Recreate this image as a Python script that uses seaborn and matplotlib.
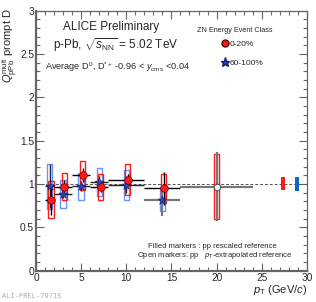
import numpy as np
import pandas as pd
import seaborn as sns
import matplotlib.pyplot as plt
from matplotlib.lines import Line2D

# pT bins
pt = [1.5, 3, 5, 7, 10, 14]
pt_lo = [1, 2, 4, 6, 8, 12]
pt_hi = [2, 4, 6, 8, 12, 16]

# 0-20% (red, filled)
q_0_20 = [0.82, 0.97, 1.10, 0.96, 1.05, 0.95]
stat_0_20 = [0.18, 0.07, 0.08, 0.05, 0.06, 0.19]
sys_0_20 = [0.21, 0.16, 0.17, 0.15, 0.18, 0.17]

# 0-20% open point (pT-extrapolated reference)
pt_open = [20]
pt_open_lo = [16]
pt_open_hi = [24]
q_open = [0.97]
stat_open = [0.40]
sys_open = [0.38]

# 60-100% (blue stars)
q_60_100 = [0.975, 0.885, 0.975, 1.02, 0.99, 0.81]
stat_60_100 = [0.25, 0.05, 0.06, 0.07, 0.10, 0.18]
sys_60_100 = [0.26, 0.16, 0.155, 0.16, 0.17, 0.12]

# normalisation uncertainty boxes
norm_x = [27.4, 28.9]
norm_unc = [0.075, 0.085]

red = '#ff1a1a'
blue = '#2a44c8'

df_red = pd.DataFrame({'pt': np.array(pt) + 0.15, 'q': q_0_20, 'cls': '0-20%'})
df_blue = pd.DataFrame({'pt': pt, 'q': q_60_100, 'cls': '60-100%'})

sns.set_style('ticks')
plt.rcParams['font.family'] = ['Liberation Sans', 'DejaVu Sans']
plt.rcParams['mathtext.fontset'] = 'custom'
plt.rcParams['mathtext.rm'] = 'Liberation Sans'
plt.rcParams['mathtext.it'] = 'Liberation Sans:italic'

fig = plt.figure(figsize=(3.16, 3.02), dpi=100)
ax = fig.add_axes([0.114, 0.104, 0.857, 0.861])

# reference line
ax.axhline(1, color='#555555', lw=0.7, ls=(0, (3, 2)), zorder=1)

# systematic boxes
x_red = np.array(pt) + 0.15
ax.bar(pt, 2 * np.array(sys_60_100), bottom=np.array(q_60_100) - np.array(sys_60_100),
       width=0.6, fill=False, edgecolor='#6b92ff', lw=1.0, zorder=2)
ax.bar(x_red, 2 * np.array(sys_0_20), bottom=np.array(q_0_20) - np.array(sys_0_20),
       width=0.6, fill=False, edgecolor=red, lw=1.0, zorder=2)
ax.bar(pt_open, 2 * np.array(sys_open), bottom=np.array(q_open) - np.array(sys_open),
       width=0.6, fill=False, edgecolor=red, lw=1.0, zorder=2)

# normalisation boxes
ax.bar(norm_x, 2 * np.array(norm_unc), bottom=1 - np.array(norm_unc),
       width=0.45, color=[red, '#0a66cc'], lw=0, zorder=2)

# statistical errors
xerr_b = [np.array(pt) - np.array(pt_lo), np.array(pt_hi) - np.array(pt)]
ax.errorbar(pt[:5], q_60_100[:5], yerr=stat_60_100[:5],
            xerr=[xerr_b[0][:5], xerr_b[1][:5]], fmt='none', ecolor='#222222', lw=1.0, zorder=3)
ax.errorbar(pt[5:], q_60_100[5:], yerr=stat_60_100[5:],
            xerr=[xerr_b[0][5:], xerr_b[1][5:]], fmt='none', ecolor='#777777', lw=1.6, zorder=3)
ax.errorbar(x_red, q_0_20, yerr=stat_0_20,
            xerr=[x_red - np.array(pt_lo), np.array(pt_hi) - x_red], fmt='none', ecolor='black', lw=1.0, zorder=3)
ax.errorbar(pt_open, q_open, yerr=stat_open,
            xerr=[np.array(pt_open) - np.array(pt_open_lo), np.array(pt_open_hi) - np.array(pt_open)],
            fmt='none', ecolor='#777777', lw=1.6, zorder=3)

# markers
sns.scatterplot(data=df_blue, x='pt', y='q', marker='*', s=45, color=blue,
                edgecolor='#102060', linewidth=0.4, ax=ax, zorder=4, legend=False)
sns.scatterplot(data=df_red, x='pt', y='q', marker='o', s=30, color=red,
                edgecolor='#600000', linewidth=0.5, ax=ax, zorder=5, legend=False)
ax.scatter(pt_open, q_open, marker='o', s=22, facecolor='white', edgecolor='#555555',
           linewidth=0.8, zorder=5)

ax.set_xlim(0, 30)
ax.set_ylim(0, 3)
ax.set_xticks(np.arange(0, 31, 5))
ax.set_xticks(np.arange(0, 31, 1), minor=True)
ax.set_yticks(np.arange(0, 3.01, 0.5))
ax.set_yticks(np.arange(0, 3.01, 0.1), minor=True)
ax.set_yticklabels(['0', '0.5', '1', '1.5', '2', '2.5', '3'])
ax.tick_params(which='both', direction='in', top=True, right=True, labelsize=7.3,
               color='#666666', width=0.8, pad=1.5)
ax.tick_params(which='major', length=6)
ax.tick_params(which='minor', length=3)
for sp in ax.spines.values():
    sp.set_color('#666666')
    sp.set_linewidth(0.9)
ax.spines['left'].set_linewidth(1.6)
ax.spines['bottom'].set_linewidth(1.6)

ax.set_xlabel(r'$\it{p}_{\rm T}$ (GeV/$\it{c}$)', fontsize=8, loc='right', labelpad=0)
ax.set_ylabel(r'$Q^{\rm mult}_{\rm pPb}$ prompt D', fontsize=8, loc='top')
ax.yaxis.set_label_coords(-0.06, 1.01)

ax.text(0.10, 0.937, 'ALICE Preliminary', transform=ax.transAxes, fontsize=8.5, va='center')
ax.text(0.063, 0.865, r'p-Pb, $\sqrt{s_{\rm NN}}$ = 5.02 TeV', transform=ax.transAxes,
        fontsize=8.5, va='center')
ax.text(0.033, 0.783, r'Average D$^{0}$, D$^{*+}$ -0.96 < $\it{y}_{\rm cms}$ <0.04',
        transform=ax.transAxes, fontsize=6.6, va='center')
ax.text(0.594, 0.925, 'ZN Energy Event Class', transform=ax.transAxes, fontsize=5.2, va='center')

handles = [Line2D([], [], marker='o', ls='none', color=red, markeredgecolor='#600000', markersize=5),
           Line2D([], [], marker='*', ls='none', color=blue, markeredgecolor='#102060', markersize=6.5)]
ax.legend(handles, ['0-20%', '60-100%'], loc='upper left', bbox_to_anchor=(0.69, 0.885),
          frameon=False, fontsize=6, handlelength=0.6, handletextpad=0.2,
          borderpad=0, labelspacing=1.3, borderaxespad=0)

ax.text(0.413, 0.091, 'Filled markers : pp rescaled reference', transform=ax.transAxes,
        fontsize=5.5, va='center')
ax.text(0.373, 0.058, r'Open markers: pp   $\it{p}_{\rm T}$-extrapolated reference',
        transform=ax.transAxes, fontsize=5.5, va='center')

fig.text(0.006, 0.017, 'ALI-PREL-79715', fontsize=5, color='#aaaaaa',
         family=['Liberation Mono', 'DejaVu Sans Mono'], va='center')

fig.savefig('out.png', dpi=100)
